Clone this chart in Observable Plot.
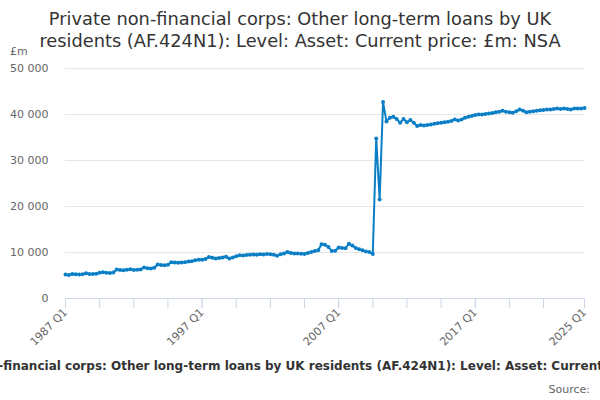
<!DOCTYPE html>
<html>
<head>
<meta charset="utf-8">
<script src="https://cdn.jsdelivr.net/npm/d3@7"></script>
<script src="https://cdn.jsdelivr.net/npm/@observablehq/plot@0.6"></script>
<style>
  body { margin: 0; background: white; font-family: "DejaVu Sans", sans-serif; }
  #wrap { position: relative; width: 600px; height: 400px; overflow: hidden; background: white; }
  #title { position: absolute; top: 8px; left: 0; width: 600px; text-align: center; z-index: 2;
           font-size: 17.8px; line-height: 22px; color: #333; }
  #unit { position: absolute; top: 45px; left: 10px; font-size: 11px; color: #666; z-index: 2; }
  #chart { position: absolute; top: 46px; left: 0; z-index: 1; }
  #caption { position: absolute; top: 359px; left: 314px; transform: translateX(-50%);
             white-space: nowrap; font-size: 12px; font-weight: bold; color: #333; }
  #source { position: absolute; top: 383px; right: 10px; font-size: 11px; color: #666; }
</style>
</head>
<body>
<div id="wrap">
  <div id="title">Private non-financial corps: Other long-term loans by UK<br>residents (AF.424N1): Level: Asset: Current price: £m: NSA</div>
  <div id="unit">£m</div>
  <div id="chart"></div>
  <div id="caption">Private non-financial corps: Other long-term loans by UK residents (AF.424N1): Level: Asset: Current price: £m: NSA</div>
  <div id="source">Source:</div>
</div>
<script>
// quarterly series, 1987 Q1 .. 2025 Q1 (£m)
const startYear = 1987;
const values = [
  5200, 5100, 5300, 5250, 5200, 5250, 5500, 5350, 5300, 5400,
  5600, 5700, 5600, 5550, 5650, 6300, 6200, 6150, 6250, 6350,
  6200, 6250, 6300, 6750, 6600, 6500, 6700, 7400, 7300, 7250,
  7350, 7900, 7800, 7750, 7800, 7900, 8050, 8100, 8300, 8400,
  8450, 8600, 9000, 8850, 8700, 8800, 8900, 9050, 8700, 8900,
  9200, 9400, 9350, 9450, 9500, 9550, 9500, 9600, 9550, 9700,
  9600, 9500, 9300, 9600, 9800, 10100, 9900, 9800, 9800, 9750,
  9700, 9900, 10100, 10300, 10500, 11800, 11700, 11200, 10300, 10400,
  11100, 11000, 10900, 11900, 11500, 11000, 10700, 10500, 10200, 10100,
  9700, 34800, 21500, 42700, 38500, 39300, 39500, 39000, 38200, 39000,
  38300, 38800, 38200, 37500, 37700, 37600, 37700, 37800, 38000, 38100,
  38200, 38300, 38400, 38600, 38900, 38700, 38900, 39300, 39500, 39700,
  39900, 40000, 40000, 40100, 40200, 40300, 40500, 40600, 40800, 40600,
  40500, 40400, 40700, 41100, 40800, 40500, 40600, 40700, 40800, 40900,
  41000, 41100, 41100, 41200, 41300, 41200, 41300, 41200, 41100, 41300,
  41300, 41300, 41400
];
const yTicks = [0, 10000, 20000, 30000, 40000, 50000];
const xTicks = [1987, 1989.5, 1992, 1994.5, 1997, 1999.5, 2002, 2004.5, 2007,
                2009.5, 2012, 2014.5, 2017, 2019.5, 2022, 2025];
const xLabels = [1987, 1997, 2007, 2017, 2025];

const data = values.map((v, i) => ({t: startYear + i / 4, v}));
const quarter = t => `${Math.floor(t)} Q${Math.round((t - Math.floor(t)) * 4) + 1}`;
const blue = "#0b7fc6";

const chart = Plot.plot({
  width: 600,
  height: 306,
  marginTop: 22,
  marginLeft: 65,
  marginRight: 16,
  marginBottom: 54,
  style: {fontFamily: "DejaVu Sans", fontSize: "11px", color: "#666", background: "transparent"},
  x: {type: "linear", domain: [1987, 2025]},
  y: {domain: [0, 50000]},
  marks: [
    Plot.gridY(yTicks, {stroke: "#e6e6e6", strokeOpacity: 1}),
    Plot.axisY(yTicks, {tickSize: 0, tickPadding: 17, label: null,
      tickFormat: d => d3.format(",")(d).replace(/,/g, " ")}),
    Plot.ruleY([0], {stroke: "#ccd6eb"}),
    Plot.axisX(xTicks, {tickSize: 10, stroke: "#ccd6eb", tickFormat: () => "", label: null}),
    Plot.axisX(xLabels, {tickSize: 10, stroke: "#ccd6eb", tickRotate: -45, tickPadding: 2,
      tickFormat: quarter, label: null}),
    Plot.line(data, {x: "t", y: "v", stroke: blue, strokeWidth: 2}),
    Plot.dot(data, {x: "t", y: "v", r: 2, fill: blue})
  ]
});
document.getElementById("chart").append(chart);
</script>
</body>
</html>
